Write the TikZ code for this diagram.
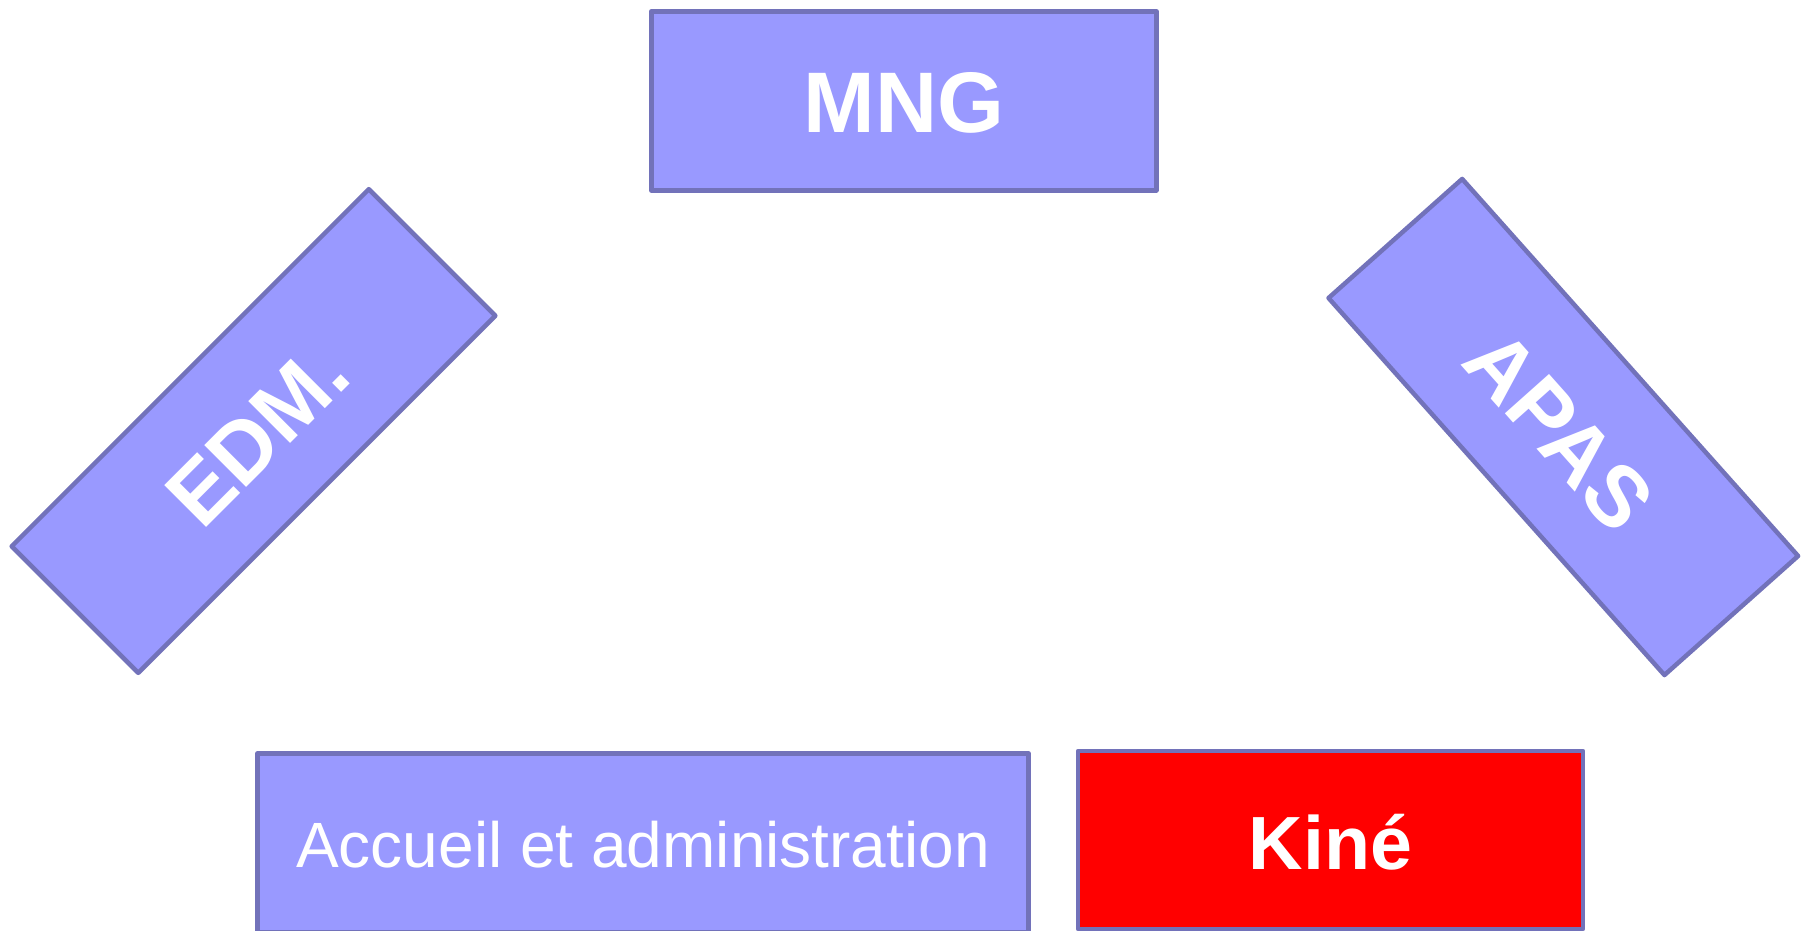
\documentclass[tikz,border=0pt]{standalone}
\usepackage{fontspec}
\setmainfont{Liberation Sans}
\definecolor{boxfill}{RGB}{153,153,255}
\definecolor{boxline}{RGB}{114,114,186}
\definecolor{kinefill}{RGB}{255,0,0}
\begin{document}
\begin{tikzpicture}[x=1pt,y=-1pt,
  card/.style={draw=boxline, fill=boxfill, line width=4.5pt, line join=round,
    minimum width=505pt, minimum height=179pt, inner sep=0pt, outer sep=0pt,
    text=white, text depth=0pt},
  bigbold/.style={font=\fontsize{86}{90}\selectfont\bfseries},
  kinefont/.style={font=\fontsize{75.4}{80}\selectfont\bfseries},
  plainfont/.style={font=\fontsize{64}{70}\selectfont}]
\useasboundingbox (0,0) rectangle (1807,930);
\clip (0,0) rectangle (1807,930);
\node[card, bigbold, text height=63pt] (mng) at (903.8,100.8) {MNG};
\node[card, bigbold, text height=69.6pt, rotate=45] (edm) at (253.5,431) {EDM.};
\node[card, bigbold, text height=69.6pt, rotate=-48.3] (apas) at (1563.3,427) {APAS};
\node[card, plainfont, minimum width=770.6pt, text height=50.2pt] (accueil) at (643,842.8) {Accueil et administration};
\node[card, kinefont, fill=kinefill, minimum height=178pt, text height=59pt] (kine) at (1330.5,840) {Kiné};
\end{tikzpicture}
\end{document}
